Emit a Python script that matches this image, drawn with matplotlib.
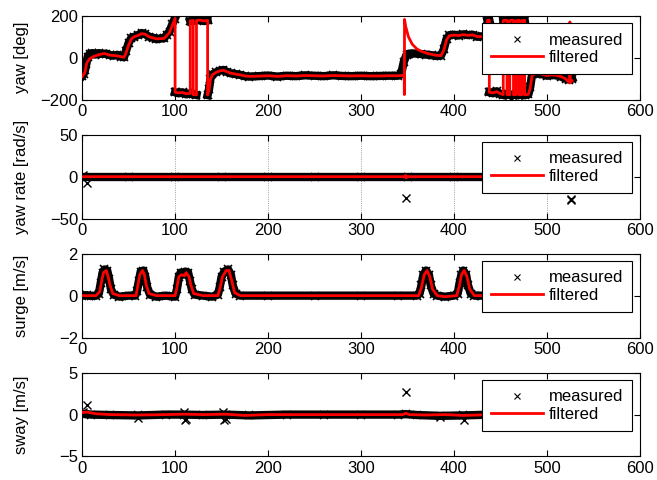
import numpy as np
import matplotlib
matplotlib.use('Agg')
import matplotlib.pyplot as plt

plt.rcParams['font.family'] = ['Liberation Sans', 'DejaVu Sans']
plt.rcParams['font.size'] = 12

nan = np.nan

# ---- yaw [deg] ----
yaw_t = [0, 1.5, 3, 4.5, 6, 8, 11, 14, 18, 22, 26, 30, 34, 38, 42, 45, 47, 50, 53, 56,
         60, 64, 68, 72, 76, 80, 84, 88, 91, 94, 97, 99.5, 100,
         100, 104, 108, 112, 116, 116.3,
         116.3, 119.5, 119.5,
         119.5, 123, 123,
         123, 127, 131, 135, 135,
         135, 136.5, 138, 140, 144, 148, 152, 156, 160, 165, 170, 175, 180, 190, 200,
         210, 220, 230, 240, 250, 260, 270, 280, 290, 300, 310, 320, 330, 340, 343, 346,
         349, 352, 358, 364, 370, 376, 382, 386, 389, 392, 395, 400, 405, 410, 415, 420,
         425, 430, 435, 436, 436,
         436, 438, 438,
         438, 442, 446, 450, 453, 453,
         453, 457, 457,
         457, 460, 460,
         460, 464, 464,
         464, 467, 467,
         467, 470, 470,
         470, 473, 473,
         473, 476, 476,
         476, 480, 482, 484, 488, 492, 496, 500, 505, 510, 515, 520, 524, 527]
yaw_meas = [-88, -80, -60, -30, 5, 18, 22, 15, 22, 18, 20, 12, 10, 14, 5, 2, 30, 70, 95, 100,
            108, 118, 112, 100, 96, 88, 92, 92, 110, 125, 160, 185, nan,
            -165, -170, -165, -175, -170, nan,
            175, 180, nan,
            -175, -178, nan,
            178, 180, 175, 178, nan,
            -178, -150, -100, -80, -70, -62, -58, -68, -75, -78, -82, -88, -90, -88, -85,
            -90, -86, -88, -84, -86, -88, -84, -87, -88, -86, -88, -87, -86, -86, -80, -20,
            15, 20, 20, 18, 15, 12, 8, 10, 40, 90, 108, 110, 106, 112, 108, 110,
            100, 102, 100, 105, nan,
            178, 180, nan,
            -165, -170, -160, -175, -178, nan,
            178, 180, nan,
            -175, -178, nan,
            178, 180, nan,
            -178, -175, nan,
            176, 180, nan,
            -178, -176, nan,
            178, 180, nan,
            -178, -175, -140, -80, -72, -78, -80, -86, -82, -84, -90, -100, -105, -100]

yaw_filt_t = [0, 3, 5, 8, 12, 18, 24, 30, 36, 42, 45, 47, 50, 53, 56, 60, 64, 68, 72, 76,
              80, 84, 88, 91, 94, 97, 100, 100, 104, 108, 112, 116.3, 116.3, 119.5, 119.5,
              123, 123, 127, 131, 135, 135, 136.5, 138, 140, 144, 148, 152, 156, 160, 165,
              170, 175, 180, 190, 200, 210, 220, 230, 240, 250, 260, 270, 280, 290, 300,
              310, 320, 330, 340, 346.5, 346.6, 346.8, 348, 351, 355, 360, 365, 372, 380,
              386, 389, 392, 395, 400, 405, 410, 415, 420, 425, 430, 436, 436, 438, 438,
              442, 446, 450, 453, 453, 457, 457, 460, 460, 464, 464, 467, 467, 470, 470,
              473, 473, 476, 476, 480, 482, 484, 488, 492, 496, 500, 505, 510, 515, 520,
              524.5, 524.7, 525, 527]
yaw_filt = [-90, -70, -25, -5, 5, 15, 20, 12, 10, 5, 2, 20, 60, 90, 100, 106, 115, 112, 100,
            95, 90, 91, 92, 105, 120, 155, 188, -165, -168, -166, -172, -170, 176, 178,
            -176, -177, 178, 179, 176, 178, -178, -155, -105, -82, -70, -63, -60, -67, -74,
            -78, -82, -87, -89, -88, -86, -89, -86, -87, -85, -86, -87, -85, -86, -87,
            -86, -87, -87, -86, -86, -84, -176, 183, 150, 100, 65, 42, 30, 20, 12,
            10, 35, 85, 105, 108, 106, 110, 107, 109, 101, 101, 104, 178, 180, -165,
            -168, -162, -172, -176, 178, 179, -176, -177, 178, 179, -177, -176, 177, 179,
            -177, -176, 178, 179, -177, -175, -145, -85, -74, -77, -80, -85, -82, -84,
            -90, -100, -121, 171, -115, -110]

# ---- yaw rate [rad/s] ----
rate_t = [0, 50, 100, 150, 200, 250, 300, 350, 400, 450, 500, 527]
rate_meas = [0, 0, 0, 0, 0, 0, 0, 0, 0, 0, 0, 0]
rate_out_t = [0.5, 5, 348, 525.5, 526]
rate_out = [1.5, -8, -25, -27, -28]
rate_filt_t = [0, 100, 200, 300, 347.5, 348, 348.5, 349, 400, 500, 527]
rate_filt = [0, 0, 0, 0, 0, 1.5, -1.5, 0, 0, 0, 0]

# ---- surge [m/s] ----
surge_t = [0, 5, 10, 15, 18, 20, 22, 24, 27, 29, 31, 34, 40, 50, 57, 59, 61, 63, 66, 68,
           70, 73, 80, 90, 100, 102, 104, 106, 109, 111, 114, 116, 118, 121, 130, 140,
           146, 148, 150, 153, 157, 160, 162, 165, 170, 200, 250, 300, 340, 360, 363, 365,
           367, 370, 373, 375, 378, 382, 390, 400, 404, 406, 408, 410, 413, 415, 418, 422,
           430, 480, 527]
surge_meas = [0, 0.02, -0.02, 0, 0.1, 0.6, 1.1, 1.25, 1.2, 0.8, 0.3, 0.05, -0.05, 0, 0,
              0.2, 0.7, 1.15, 1.2, 0.9, 0.4, 0.05, -0.05, 0, -0.05, 0.3, 0.9, 1.1, 1.0,
              1.15, 1.1, 0.7, 0.3, 0.05, 0, -0.05, 0.05, 0.4, 0.9, 1.15, 1.25, 1.0, 0.5,
              0.1, 0, 0, 0, 0, 0, 0, 0.1, 0.5, 1.0, 1.2, 1.0, 0.5, 0.1, 0, -0.05, 0, 0.1,
              0.6, 1.0, 1.2, 1.0, 0.5, 0.1, 0, 0, 0, 0]
surge_filt_t = [0, 15, 19, 21, 23, 26, 28, 30, 33, 40, 58, 60, 62, 65, 67, 69, 72, 80, 100,
                102, 104, 107, 110, 112, 115, 117, 120, 130, 146, 148, 151, 155, 158, 161,
                164, 170, 300, 362, 365, 368, 371, 374, 377, 382, 390, 403, 406, 408, 411,
                414, 417, 422, 527]
surge_filt = [0, 0, 0.2, 0.7, 1.1, 1.2, 0.9, 0.5, 0.1, 0, 0, 0.5, 1.0, 1.2, 1.0, 0.5, 0.1,
              0, 0, 0.4, 0.9, 1.0, 0.95, 1.1, 0.9, 0.5, 0.1, 0, 0, 0.3, 0.9, 1.2, 1.2, 0.7,
              0.15, 0, 0, 0, 0.4, 1.0, 1.2, 0.9, 0.3, 0, -0.05, 0, 0.5, 1.0, 1.2, 0.9, 0.3,
              0, 0]

# ---- sway [m/s] ----
sway_t = [0, 10, 30, 60, 90, 110, 130, 155, 180, 220, 260, 300, 340, 348, 360, 385, 410, 440, 527]
sway_meas = [0.1, 0, -0.05, -0.1, 0, 0, -0.05, 0, -0.1, 0, 0, 0, 0, 0.05, -0.05, -0.15, -0.1, 0, 0]
sway_out_t = [0.5, 5.7, 60.5, 110, 110.5, 112, 152, 153, 155, 348.4, 385, 410.7]
sway_out = [0.3, 1.1, -0.35, 0.3, -0.65, -0.5, 0.3, -0.65, -0.55, 2.65, -0.25, -0.65]
sway_filt_t = [0, 5, 15, 30, 60, 90, 110, 130, 155, 175, 200, 260, 300, 345, 348, 352, 370,
               390, 410, 440, 527]
sway_filt = [0.25, 0.3, 0.1, 0.0, -0.05, 0.0, 0.05, 0.0, 0.05, -0.1, 0, 0, 0, 0, 0.15, 0.0,
             -0.05, 0.0, -0.1, 0, 0]

fig, axes = plt.subplots(4, 1, figsize=(6.57, 4.8), dpi=100)
plt.subplots_adjust(left=0.125, right=0.974, top=0.967, bottom=0.049, hspace=0.42)


def draw(ax, mt, mv, ft, fv, ot=None, ov=None):
    # dense measured crosses look like a thick black band
    ax.plot(mt, mv, color='black', lw=6, solid_joinstyle='round', zorder=2)
    ax.plot(mt, mv, ls='none', marker='x', color='black', ms=6, mew=1.2, zorder=2)
    if ot is not None:
        ax.plot(ot, ov, ls='none', marker='x', color='black', ms=5.5, mew=1, zorder=2)
    ax.plot(ft, fv, color='red', lw=2, zorder=3)


draw(axes[0], yaw_t, yaw_meas, yaw_filt_t, yaw_filt)
draw(axes[1], rate_t, rate_meas, rate_filt_t, rate_filt, rate_out_t, rate_out)
draw(axes[2], surge_t, surge_meas, surge_filt_t, surge_filt)
draw(axes[3], sway_t, sway_meas, sway_filt_t, sway_filt, sway_out_t, sway_out)

ylabels = ['yaw [deg]', 'yaw rate [rad/s]', 'surge [m/s]', 'sway [m/s]']
ylims = [(-200, 200), (-50, 50), (-2, 2), (-5, 5)]

h_meas = plt.Line2D([], [], ls='none', marker='x', color='black', ms=5, mew=0.8)
h_filt = plt.Line2D([], [], color='red', lw=2)

for i, ax in enumerate(axes):
    ax.set_xlim(0, 600)
    ax.set_ylim(*ylims[i])
    ax.set_xticks(range(0, 601, 100))
    ax.set_yticks([ylims[i][0], 0, ylims[i][1]])
    ax.tick_params(direction='in', top=True, right=True, length=4, labelsize=12, pad=3)
    ax.set_ylabel(ylabels[i], fontsize=12)
    ax.yaxis.set_label_coords(-0.095, 0.5)
    for s in ax.spines.values():
        s.set_linewidth(0.8)
    leg = ax.legend([h_meas, h_filt], ['measured', 'filtered'], loc='upper right',
                    fancybox=False, framealpha=1, edgecolor='black', fontsize=12,
                    handlelength=3.1, handletextpad=0.35, borderpad=0.55,
                    labelspacing=0.15, borderaxespad=0.45)
    leg.get_frame().set_linewidth(0.8)
    leg.set_zorder(5)

axes[1].grid(axis='x', ls=':', color='gray', lw=0.6)

plt.savefig('out.png', dpi=100)
